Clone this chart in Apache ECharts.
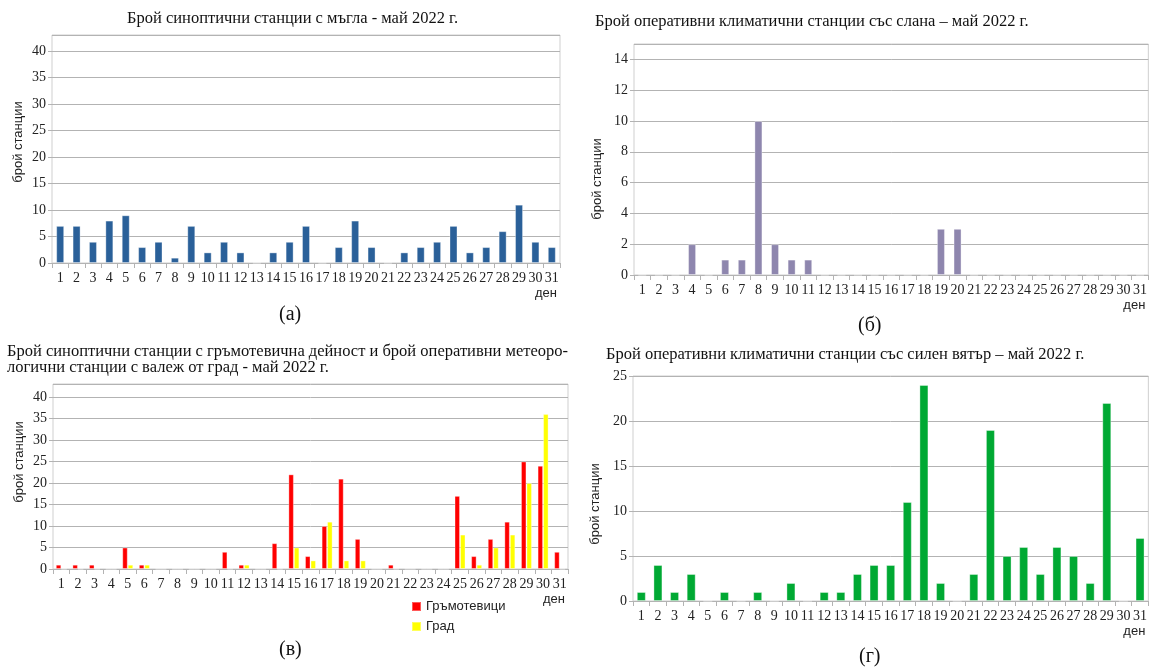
<!DOCTYPE html>
<html>
<head>
<meta charset="utf-8">
<script src="https://cdn.jsdelivr.net/npm/echarts@6/dist/echarts.min.js"></script>
<style>
html,body{margin:0;padding:0;background:#fff;}
#c{width:1150px;height:671px;}
</style>
</head>
<body>
<div id="c"></div>
<script>
const days = ['1','2','3','4','5','6','7','8','9','10','11','12','13','14','15','16','17','18','19','20','21','22','23','24','25','26','27','28','29','30','31'];
// (а) мъгла
const fog     = [7,7,4,8,9,3,4,1,7,2,4,2,0,2,4,7,0,3,8,3,0,2,3,4,7,2,3,6,11,4,3];
// (б) слана
const frost   = [0,0,0,2,0,1,1,10,2,1,1,0,0,0,0,0,0,0,3,3,0,0,0,0,0,0,0,0,0,0,0];
// (в) гръмотевици / град
const thunder = [1,1,1,0,5,1,0,0,0,0,4,1,0,6,22,3,10,21,7,0,1,0,0,0,17,3,7,11,25,24,4];
const hail    = [0,0,0,0,1,1,0,0,0,0,0,1,0,0,5,2,11,2,2,0,0,0,0,0,8,1,5,8,20,36,0];
// (г) силен вятър
const wind    = [1,4,1,3,0,1,0,1,0,2,0,1,1,3,4,4,11,24,2,0,3,19,5,6,3,6,5,2,22,0,7];

const titles = [
  'Брой синоптични станции с мъгла - май 2022 г.',
  'Брой оперативни климатични станции със слана – май 2022 г.',
  'Брой синоптични станции с гръмотевична дейност и брой оперативни метеоро-\nлогични станции с валеж от град - май 2022 г.',
  'Брой оперативни климатични станции със силен вятър – май 2022 г.'
];
const yName = 'брой станции';
const xName = 'ден';
const panelLabels = ['(а)','(б)','(в)','(г)'];
const legendNames = ['Гръмотевици','Град'];

const SERIF = '"Liberation Serif", "DejaVu Serif", serif';
const SANS = '"Liberation Sans", "DejaVu Sans", sans-serif';

const grids = [
  {left:52, top:35, width:508, height:228},
  {left:634, top:44, width:517, height:231},
  {left:53, top:384, width:515, height:185},
  {left:633, top:376, width:518, height:225}
];
const yCfg = [
  {max:43, interval:5, hideMax:true},
  {max:15, interval:2, hideMax:true},
  {max:43, interval:5, hideMax:true},
  {max:25, interval:5, hideMax:false}
];
// centres of the rotated "брой станции" labels
const yNamePos = [[18,142],[597,179],[19,462],[595,504]];

const grid = grids.map(g => Object.assign({show:true, borderColor:'#cfcfcf', borderWidth:1, containLabel:false}, g));

const xAxis = grids.map((g,i) => ({
  type:'category', gridIndex:i, data:days, boundaryGap:true,
  axisLine:{show:true, lineStyle:{color:'#b3b3b3', width:1}},
  axisTick:{show:true, alignWithLabel:false, length:5, lineStyle:{color:'#b3b3b3'}},
  axisLabel:{interval:0, margin:8, fontFamily:SERIF, fontSize:14, color:'#222'},
  splitLine:{show:false},
  name:xName, nameLocation:'end', nameGap:-3,
  nameTextStyle:{fontFamily:SANS, fontSize:13, color:'#222', align:'right', verticalAlign:'top', padding:[24,0,0,0]}
}));

const yAxis = yCfg.map((c,i) => ({
  type:'value', gridIndex:i, min:0, max:c.max, interval:c.interval,
  axisLine:{show:false},
  axisTick:{show:true, length:4, lineStyle:{color:'#b3b3b3'}},
  axisLabel:{fontFamily:SERIF, fontSize:14, color:'#222', margin:6, showMaxLabel:!c.hideMax},
  splitLine:{show:true, lineStyle:{color:'#b3b3b3', width:1}}
}));

function bar(name, data, idx, color, w, extra){
  return Object.assign({
    type:'bar', name:name, data:data, xAxisIndex:idx, yAxisIndex:idx,
    barWidth:w, itemStyle:{color:color, borderColor:'rgba(255,255,255,0.35)', borderWidth:1},
    emphasis:{disabled:true}, animation:false
  }, extra||{});
}

const series = [
  bar('мъгла', fog, 0, '#2a6099', 8),
  bar('слана', frost, 1, '#8e86ae', 8),
  bar(legendNames[0], thunder, 2, '#ff0000', 5.5, {barGap:'0%'}),
  bar(legendNames[1], hail, 2, '#ffff00', 5.5, {barGap:'0%'}),
  bar('вятър', wind, 3, '#00a933', 9)
];

const titleStyle = {fontFamily:SERIF, fontSize:16.5, fontWeight:'normal', color:'#111', lineHeight:16};
const panelStyle = {fontFamily:SERIF, fontSize:20, fontWeight:'normal', color:'#111'};
const title = [
  {text:titles[0], left:127, top:11, textStyle:titleStyle, padding:0},
  {text:titles[1], left:595, top:14, textStyle:titleStyle, padding:0},
  {text:titles[2], left:7, top:344, textStyle:titleStyle, padding:0},
  {text:titles[3], left:606, top:347, textStyle:titleStyle, padding:0},
  {text:panelLabels[0], left:279, top:305, textStyle:panelStyle, padding:0},
  {text:panelLabels[1], left:858, top:316, textStyle:panelStyle, padding:0},
  {text:panelLabels[2], left:279, top:640, textStyle:panelStyle, padding:0},
  {text:panelLabels[3], left:859, top:647, textStyle:panelStyle, padding:0}
];

const graphic = yNamePos.map(p => ({
  type:'text', x:p[0], y:p[1], rotation:Math.PI/2, silent:true,
  style:{text:yName, fontFamily:SANS, fontSize:13, fill:'#222', align:'center', verticalAlign:'middle'}
}));

const chart = echarts.init(document.getElementById('c'), null, {renderer:'canvas'});
chart.setOption({
  backgroundColor:'#fff',
  animation:false,
  title:title,
  graphic:graphic,
  grid:grid, xAxis:xAxis, yAxis:yAxis, series:series,
  legend:{data:legendNames, orient:'vertical', left:411, top:600, itemWidth:9, itemHeight:9, itemGap:7, icon:'rect',
    textStyle:{fontFamily:SANS, fontSize:13, color:'#222'}, padding:0}
});
</script>
</body>
</html>
